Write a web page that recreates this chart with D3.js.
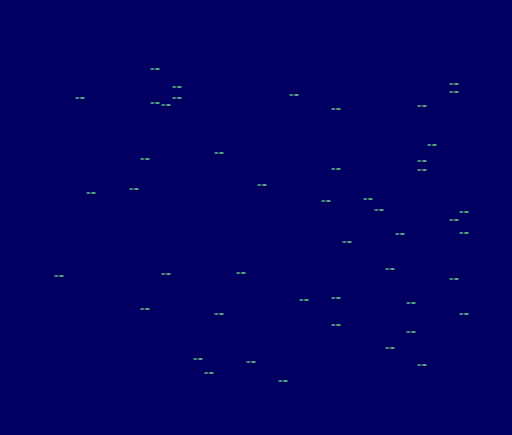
<!DOCTYPE html>
<html><head><meta charset="utf-8">
<script src="https://cdn.jsdelivr.net/npm/d3@7"></script>
<style>html,body{margin:0;padding:0;background:#010062;overflow:hidden}</style>
</head><body>
<svg id="chart" width="512" height="435"></svg>
<script>
// column index (0..47) of each point
const columns = [14,16,7,16,14,15,20,13,12,8,
  27,31,42,42,39,40,39,39,31,
  24,30,34,35,43,42,43,37,32,36,42,
  5,15,22,13,20,18,23,19,26,
  28,31,38,43,31,38,36,39];
// vertical value of each point
const values = [69.3,87,98.3,98.3,103,104.7,152.7,159,189.3,192.7,
  95,109.3,84,91.7,106.3,144.7,160.7,170.3,168.7,
  184.7,200.7,199,210.3,211.7,219.7,232.7,234,242,269.3,279,
  275.7,274.3,272.7,309.3,314,359,362,373.3,381.3,
  299.7,298.3,303,314.3,325.3,331.7,347.7,365.3];

const W = 512, H = 435;
const svg = d3.select("#chart");
svg.append("rect").attr("width", W).attr("height", H).attr("fill", "#010062");

const x = d3.scaleBand().domain(d3.range(48)).range([0, W]).padding(0);
const y = d3.scaleLinear().domain([0, 435]).range([0, H]);

const pattern = ["#17449a","#2f8a86","#44a874","#6a4a62","#1a2a86","#6e4a5e","#3f9f7c","#55b46e","#46a482","#1a4fa2"];
const data = columns.map((c, i) => ({c, v: values[i]}));
const g = svg.append("g");
data.forEach(d => {
  const cx = x(d.c) + x.bandwidth() / 2 + 0.5;
  const cy = y(d.v);
  pattern.forEach((col, k) => {
    g.append("rect")
      .attr("x", Math.round(cx - 5) + k)
      .attr("y", Math.round(cy - 1))
      .attr("width", 1).attr("height", 2)
      .attr("fill", col);
  });
});
</script>
</body></html>
